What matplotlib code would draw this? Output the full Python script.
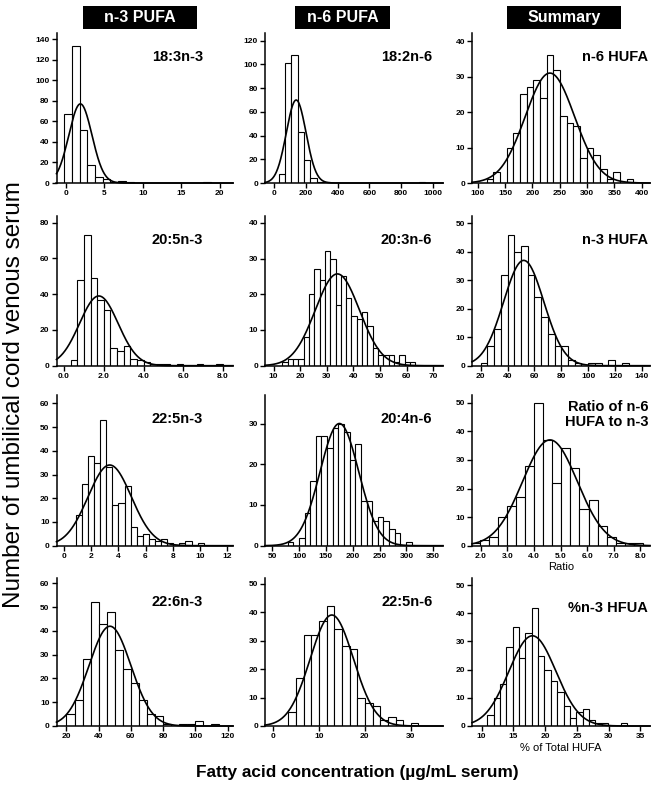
import numpy as np
import matplotlib
matplotlib.use("Agg")
import matplotlib.pyplot as plt
from matplotlib.patches import Rectangle

plt.rcParams['font.family'] = ['Liberation Sans', 'DejaVu Sans']

# panel titles, row by row
names = ["18:3n-3", "18:2n-6", "n-6 HUFA",
         "20:5n-3", "20:3n-6", "n-3 HUFA",
         "22:5n-3", "20:4n-6", "Ratio of n-6\nHUFA to n-3",
         "22:6n-3", "22:5n-6", "%n-3 HFUA"]
headers = ["n-3 PUFA", "n-6 PUFA", "Summary"]

# histogram bins: first edge, bin width, counts
bin_start = [-0.2, 30, 104, 1 / 3, 13.3, 20, 0.85, 78.6, 1.63, 20, 3.33, 10.9]
bin_width = [1, 40, 12.2, 1 / 3, 2, 5, 0.45, 10.5, 0.34, 5, 5 / 3, 1]

c_183n3 = [67, 133, 52, 18, 6, 4, 1, 2, 1, 0, 0, 0, 0, 0, 0, 0, 0, 0, 1]
c_182n6 = [8, 101, 108, 43, 19, 4, 1, 1, 0, 0, 0, 0, 0, 0, 0, 0, 0, 0, 0, 0, 0, 0, 1]
c_n6hufa = [0, 1, 3, 0, 10, 14, 25, 27, 29, 24, 36, 32, 19, 17, 16, 7, 10, 8, 4, 1, 3, 0, 1]
c_205n3 = [3, 48, 73, 49, 37, 31, 10, 8, 11, 4, 3, 2, 1, 1, 1, 0, 1, 0, 0, 1, 0, 0, 1]
c_203n6 = [1, 2, 2, 2, 8, 20, 27, 24, 32, 30, 17, 25, 19, 14, 13, 15, 11, 5, 3, 3, 3, 1, 3, 1, 1]
c_n3hufa = [1, 7, 13, 32, 46, 40, 42, 32, 24, 17, 11, 7, 7, 2, 1, 0, 1, 1, 0, 2, 0, 1]
c_225n3 = [13, 26, 38, 35, 53, 33, 17, 18, 25, 8, 4, 5, 3, 2, 3, 1, 0, 1, 2, 0, 1]
c_204n6 = [1, 0, 2, 8, 16, 27, 27, 24, 29, 30, 28, 21, 25, 11, 11, 6, 7, 6, 4, 3, 0, 1]
c_ratio = [1, 2, 3, 10, 14, 17, 28, 50, 37, 22, 34, 27, 13, 16, 7, 3, 1, 1, 1]
c_226n3 = [5, 11, 28, 52, 43, 48, 32, 24, 18, 11, 5, 4, 1, 0, 1, 1, 2, 0, 1]
c_225n6 = [5, 17, 32, 32, 37, 42, 34, 28, 27, 10, 8, 7, 2, 3, 2, 0, 1]
c_pct = [4, 10, 15, 28, 35, 24, 33, 42, 25, 20, 16, 12, 7, 3, 5, 6, 2, 1, 1, 0, 0, 1]
counts = [c_183n3, c_182n6, c_n6hufa, c_205n3, c_203n6, c_n3hufa,
          c_225n3, c_204n6, c_ratio, c_226n3, c_225n6, c_pct]

# fitted normal curves: mean, SD, peak height
fit_mu = [1.9, 140, 232, 1.75, 34, 52, 3.35, 175, 4.6, 47, 12.8, 18]
fit_sd = [1.5, 62, 45, 0.97, 8.3, 15, 1.6, 36, 1.03, 13, 4.7, 3.7]
fit_amp = [77, 70, 31, 39, 25.7, 37, 34, 30, 37, 42, 39, 32]

# axis ranges and ticks
xlims = [(-1.2, 21.7), (-56, 1063), (89.6, 415), (-0.38, 8.5), (6.8, 73.7), (13.5, 146),
         (-0.58, 12.46), (36.4, 368), (1.67, 8.36), (13.8, 123.4), (-1.74, 37), (8.5, 36.5)]
ylims = [146, 126.5, 42.3, 83.9, 42, 52.7, 63.5, 37, 52.7, 62.3, 52, 52.5]
xticks = [np.arange(0, 21, 5), np.arange(0, 1001, 200), np.arange(100, 401, 50),
          np.arange(0, 8.1, 2), np.arange(10, 71, 10), np.arange(20, 141, 20),
          np.arange(0, 13, 2), np.arange(50, 351, 50), np.arange(2, 8.1, 1),
          np.arange(20, 121, 20), np.arange(0, 31, 10), np.arange(10, 36, 5)]
ysteps = [20, 20, 10, 20, 10, 10, 10, 10, 10, 10, 10, 10]
one_decimal = [3, 8]

W, H = 657, 790
fig = plt.figure(figsize=(W / 100, H / 100), dpi=100)

col_left = [56.5, 265, 472]
col_w = [176.5, 178, 178]
row_top = [33, 215.7, 395, 578]
row_bot = [183, 365.7, 545.7, 726]
label_x = [0.83, 0.94, 0.99]

for i in range(12):
    r, c = divmod(i, 3)
    ax = fig.add_axes([col_left[c] / W, 1 - row_bot[r] / H,
                       col_w[c] / W, (row_bot[r] - row_top[r]) / H])
    n = len(counts[i])
    left = bin_start[i] + bin_width[i] * np.arange(n)
    ax.bar(left, counts[i], width=bin_width[i], align='edge',
           facecolor='white', edgecolor='black', linewidth=0.8)
    xs = np.linspace(xlims[i][0], xlims[i][1], 500)
    ax.plot(xs, fit_amp[i] * np.exp(-0.5 * ((xs - fit_mu[i]) / fit_sd[i]) ** 2),
            color='black', lw=1.2, clip_on=False)
    ax.set_xlim(*xlims[i])
    ax.set_ylim(0, ylims[i])
    ax.set_xticks(xticks[i])
    if i in one_decimal:
        ax.set_xticklabels([f"{v:.1f}" for v in xticks[i]])
    ax.set_yticks(np.arange(0, ylims[i], ysteps[i]))
    for s in ['top', 'right']:
        ax.spines[s].set_visible(False)
    for s in ['left', 'bottom']:
        ax.spines[s].set_linewidth(1.1)
    ax.tick_params(direction='out', length=3.5, width=1.0, labelsize=6, pad=1.5)
    for lb in ax.get_xticklabels() + ax.get_yticklabels():
        lb.set_fontweight('bold')
    ly = 0.84
    if i == 8:
        ly = 0.87
    if i == 11:
        ly = 0.80
    ax.text(label_x[c], ly, names[i], transform=ax.transAxes, ha='right', va='center',
            fontsize=10.5, fontweight='bold', multialignment='right', linespacing=1.1)
    if i == 8:
        ax.set_xlabel("Ratio", fontsize=8, labelpad=2)
    if i == 11:
        ax.set_xlabel("% of Total HUFA", fontsize=8, labelpad=2)

# black column header boxes
box_x = [(83, 197), (295, 390), (507, 621)]
for (x0, x1), t in zip(box_x, headers):
    fig.patches.append(Rectangle((x0 / W, 1 - 29 / H), (x1 - x0) / W, 23 / H,
                                 transform=fig.transFigure, facecolor='black',
                                 edgecolor='none'))
    fig.text((x0 + x1) / 2 / W, 1 - 17.5 / H, t, color='white', fontsize=11.5,
             fontweight='bold', ha='center', va='center')

fig.text(14 / W, 1 - 395 / H, "Number of umbilical cord venous serum", rotation=90,
         ha='center', va='center', fontsize=17.5)
fig.text(357 / W, 1 - 772 / H, "Fatty acid concentration (µg/mL serum)",
         ha='center', va='center', fontsize=12.4, fontweight='bold')

fig.savefig("out.png", dpi=100)
